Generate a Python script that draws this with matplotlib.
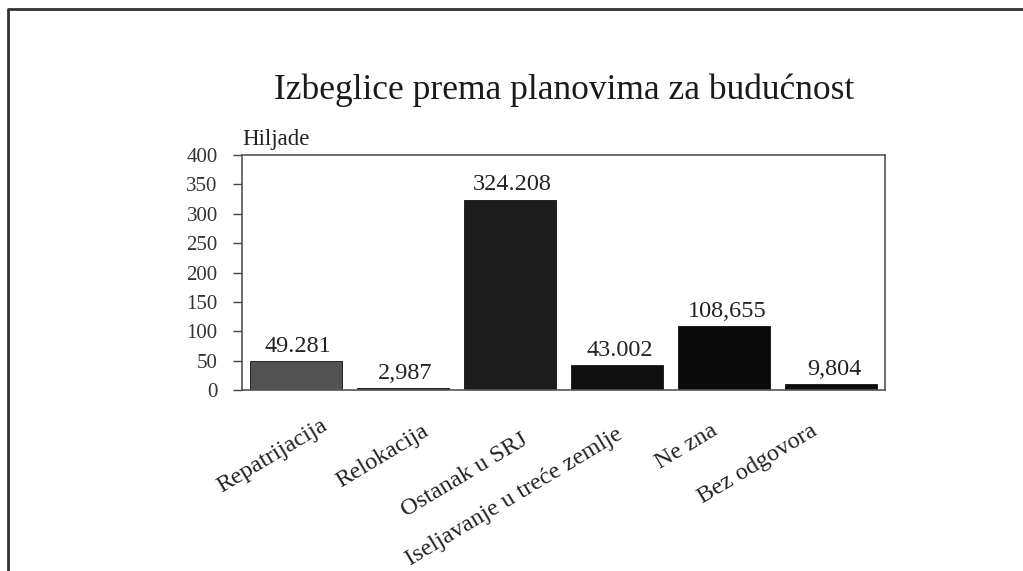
import matplotlib
matplotlib.use("Agg")
import matplotlib.pyplot as plt
from matplotlib.lines import Line2D
import matplotlib.transforms as mtransforms

categories = ["Repatrijacija", "Relokacija", "Ostanak u SRJ",
              "Iseljavanje u treće zemlje", "Ne zna", "Bez odgovora"]
values = [49.281, 2.987, 324.208, 43.002, 108.655, 9.804]
value_labels = ["49.281", "2,987", "324.208", "43.002", "108,655", "9,804"]
bar_colors = ["#525252", "#141414", "#1c1c1c", "#101010", "#0a0a0a", "#0f0f0f"]
yticks = [0, 50, 100, 150, 200, 250, 300, 350, 400]

# label placement tweaks (pixels) to mimic the scanned layout
label_dx = [25, 19, 11, -2, -14, -21]
label_dy = [0, -5, -14, -9, -5, -5]

plt.rcParams['font.family'] = ['Liberation Serif', 'DejaVu Serif']

fig = plt.figure(figsize=(10.23, 5.71), dpi=100)
ax = fig.add_axes([242/1023, 1 - 390/571, (885-242)/1023, (390-155)/571])

x = list(range(len(categories)))
ax.bar(x, values, width=0.86, color=bar_colors, edgecolor="#111111", linewidth=0.6)
ax.set_xlim(-0.5, len(categories) - 0.5)
ax.set_ylim(0, 400)
ax.set_yticks(yticks)
ax.set_yticklabels([str(t) for t in yticks], fontsize=15, color="#333333")
ax.tick_params(axis='y', direction='out', length=6.5, width=1, color="#444444", pad=11)
ax.tick_params(axis='x', length=0, pad=18)
ax.set_xticks(x)
ax.set_xticklabels(categories, rotation=31, ha='right', va='top',
                   rotation_mode='anchor', fontsize=17.5, color="#222222")
for lbl, dx, dy in zip(ax.get_xticklabels(), label_dx, label_dy):
    off = mtransforms.ScaledTranslation(dx/100, dy/100, fig.dpi_scale_trans)
    lbl.set_transform(lbl.get_transform() + off)

for s in ax.spines.values():
    s.set_color("#555555")
    s.set_linewidth(1.2)

for xi, v, lab in zip(x, values, value_labels):
    ax.annotate(lab, (xi, v), xytext=(2, 3), textcoords='offset points',
                ha='center', va='bottom', fontsize=17.5, color="#222222")

ax.text(0, 1.02, "Hiljade", transform=ax.transAxes, ha='left', va='bottom',
        fontsize=16.5, color="#222222")

fig.text(564/1023, 1 - 90/571, "Izbeglice prema planovima za budućnost",
         ha='center', va='center', fontsize=25.5, color="#1a1a1a")

# outer frame (scanned page border)
fig.add_artist(Line2D([8/1023, 8/1023, 1.0], [0.0, 1 - 9/571, 1 - 9/571],
                      transform=fig.transFigure, color="#333333", linewidth=2))

fig.savefig("out.png", dpi=100, facecolor="white")
